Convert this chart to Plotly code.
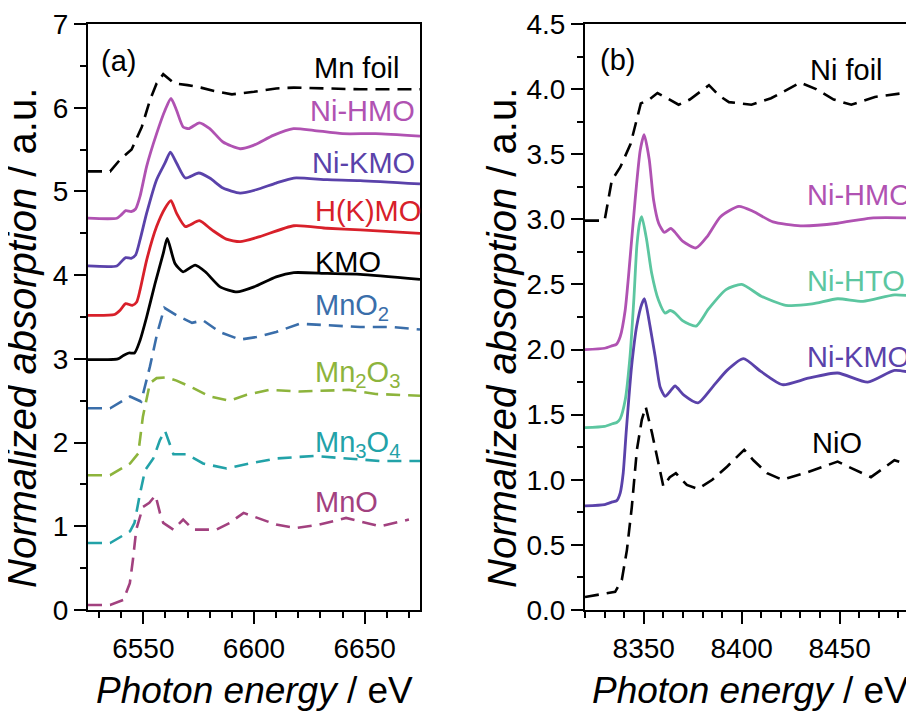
import plotly.graph_objects as go

# ---------------- Panel (a): Mn K-edge ----------------
mnfoil_e = [6525, 6535, 6539.5, 6544.7, 6549.3, 6553, 6556, 6559, 6564, 6570, 6576, 6582, 6590, 6600, 6610, 6618, 6633, 6648, 6675]
mnfoil_y = [5.24, 5.24, 5.38, 5.50, 5.77, 6.09, 6.29, 6.40, 6.29, 6.27, 6.24, 6.20, 6.16, 6.19, 6.23, 6.24, 6.23, 6.22, 6.22]

nihmo_a_e = [6525, 6538, 6540, 6542, 6544.5, 6546.5, 6548.5, 6551.5, 6556, 6559.8, 6562.5, 6565, 6568, 6570.5, 6575.3, 6580, 6586, 6593.7, 6599.7, 6608.7, 6617.8, 6626.8, 6640, 6655, 6675]
nihmo_a_y = [4.68, 4.68, 4.72, 4.77, 4.76, 4.79, 4.94, 5.30, 5.69, 5.97, 6.11, 5.97, 5.77, 5.75, 5.82, 5.75, 5.59, 5.51, 5.55, 5.67, 5.75, 5.73, 5.69, 5.69, 5.66]

nikmo_a_e = [6525, 6538, 6540, 6542, 6544.5, 6546.5, 6548.5, 6551.5, 6556, 6559.8, 6562.2, 6565, 6569, 6575, 6580, 6586, 6593.7, 6601, 6610, 6618, 6633, 6648, 6675]
nikmo_a_y = [4.11, 4.11, 4.16, 4.21, 4.20, 4.24, 4.42, 4.74, 5.14, 5.34, 5.47, 5.34, 5.16, 5.22, 5.16, 5.04, 4.98, 5.02, 5.10, 5.16, 5.14, 5.13, 5.09]

hkmo_e = [6525, 6537, 6539.5, 6542, 6545, 6547, 6548.5, 6551.5, 6556, 6559.8, 6562.5, 6565, 6569, 6575.3, 6581, 6587.5, 6593.7, 6602.6, 6618, 6633, 6648, 6675]
hkmo_y = [3.52, 3.53, 3.58, 3.66, 3.64, 3.68, 3.82, 4.18, 4.58, 4.80, 4.89, 4.74, 4.58, 4.65, 4.54, 4.43, 4.40, 4.46, 4.59, 4.56, 4.54, 4.50]

kmo_e = [6525, 6538.5, 6541, 6543.5, 6546, 6548.5, 6551.5, 6555.3, 6559, 6560.8, 6564.3, 6568, 6573.4, 6578, 6584.7, 6592.3, 6600, 6610, 6618, 6633, 6648, 6675]
kmo_y = [2.99, 3.00, 3.04, 3.07, 3.07, 3.22, 3.50, 3.90, 4.26, 4.44, 4.14, 4.04, 4.12, 4.04, 3.86, 3.80, 3.86, 3.98, 4.03, 4.02, 4.01, 3.95]

mno2_e = [6525, 6535, 6544, 6549, 6553, 6556.3, 6559.5, 6565, 6572, 6577, 6584.6, 6593.7, 6601, 6610, 6620.6, 6632.7, 6648, 6663, 6675]
mno2_y = [2.41, 2.41, 2.55, 2.49, 2.91, 3.31, 3.61, 3.52, 3.43, 3.46, 3.32, 3.23, 3.26, 3.32, 3.42, 3.40, 3.38, 3.38, 3.35]

mn2o3_e = [6525, 6535, 6544, 6547.7, 6549.8, 6553, 6556, 6560.5, 6565, 6572.6, 6580, 6589, 6596.7, 6607, 6620.6, 6632, 6643, 6655, 6675]
mn2o3_y = [1.61, 1.61, 1.75, 1.87, 2.31, 2.71, 2.77, 2.78, 2.74, 2.65, 2.55, 2.50, 2.57, 2.63, 2.61, 2.62, 2.63, 2.58, 2.56]

mn3o4_e = [6525, 6535, 6544, 6546, 6548.5, 6550.8, 6554.5, 6557.5, 6559.8, 6563.6, 6569.6, 6577, 6587.6, 6598, 6610, 6627, 6642, 6657, 6675]
mn3o4_y = [0.80, 0.80, 0.94, 1.04, 1.39, 1.67, 1.81, 2.03, 2.14, 1.86, 1.86, 1.75, 1.69, 1.75, 1.81, 1.84, 1.81, 1.78, 1.78]

mno_e = [6525, 6535, 6541, 6543.9, 6545.3, 6546.8, 6549.8, 6552.7, 6555.5, 6557.5, 6559, 6563.6, 6568, 6572.6, 6583, 6589, 6595.3, 6602, 6610, 6619, 6629.5, 6641.6, 6648, 6657, 6670]
mno_y = [0.06, 0.06, 0.12, 0.32, 0.60, 0.96, 1.23, 1.28, 1.37, 1.16, 1.04, 0.96, 1.08, 0.96, 0.96, 1.04, 1.16, 1.10, 1.02, 0.98, 1.02, 1.10, 1.06, 1.00, 1.08]

# ---------------- Panel (b): Ni K-edge ----------------
nifoil_e = [8320, 8330, 8333.7, 8338, 8343.3, 8345.9, 8348.5, 8352.8, 8357, 8362, 8367.8, 8373.5, 8383.3, 8388.5, 8393.5, 8405, 8415, 8430, 8438, 8447, 8456, 8468, 8488]
nifoil_y = [2.99, 2.99, 3.30, 3.40, 3.58, 3.74, 3.89, 3.92, 3.97, 3.93, 3.88, 3.92, 4.03, 3.95, 3.90, 3.88, 3.93, 4.05, 4.00, 3.92, 3.88, 3.94, 3.98]

nihmo_b_e = [8320, 8330, 8334, 8336, 8338, 8340.5, 8342.2, 8345.6, 8348.2, 8350.2, 8352.8, 8355, 8357.6, 8360.5, 8363.8, 8366, 8370, 8376.7, 8382.5, 8389.2, 8398.6, 8406, 8416, 8430, 8449, 8466, 8488]
nihmo_b_y = [2.00, 2.01, 2.03, 2.04, 2.10, 2.30, 2.56, 3.15, 3.53, 3.65, 3.46, 3.15, 2.97, 2.90, 2.93, 2.90, 2.83, 2.78, 2.87, 3.02, 3.10, 3.06, 2.98, 2.95, 2.97, 3.01, 3.01]

nihto_e = [8320, 8330, 8334, 8336.2, 8338, 8340.5, 8343, 8345, 8346.5, 8348, 8349, 8351.5, 8354, 8357.5, 8360.9, 8363.5, 8366, 8370, 8376.7, 8383, 8392, 8400, 8410, 8422.5, 8436, 8449, 8462, 8478, 8488]
nihto_y = [1.40, 1.41, 1.43, 1.44, 1.47, 1.61, 1.95, 2.40, 2.80, 2.98, 3.02, 2.84, 2.59, 2.38, 2.28, 2.30, 2.28, 2.22, 2.18, 2.31, 2.46, 2.50, 2.41, 2.34, 2.35, 2.39, 2.37, 2.42, 2.41]

nikmo_b_e = [8320, 8330, 8334, 8336.2, 8338, 8339.5, 8341, 8343.8, 8346.4, 8349, 8350.4, 8353.2, 8355.8, 8358.4, 8360.9, 8363.5, 8366, 8370.5, 8377.7, 8385, 8392.5, 8400.9, 8410, 8420.8, 8434, 8449, 8464.4, 8478, 8488]
nikmo_b_y = [0.80, 0.81, 0.83, 0.84, 0.90, 1.05, 1.36, 1.87, 2.18, 2.35, 2.39, 2.18, 1.95, 1.71, 1.64, 1.68, 1.72, 1.65, 1.59, 1.71, 1.84, 1.93, 1.83, 1.73, 1.78, 1.82, 1.75, 1.84, 1.82]

nio_e = [8320, 8335.4, 8338.8, 8341.4, 8343.9, 8346.5, 8349, 8351, 8354.2, 8357.5, 8360, 8363.3, 8366.4, 8372, 8377.7, 8385, 8392.5, 8401.3, 8406, 8413, 8420.8, 8434, 8449, 8456, 8466, 8478, 8488]
nio_y = [0.10, 0.14, 0.23, 0.46, 0.79, 1.23, 1.46, 1.56, 1.36, 1.13, 0.95, 1.02, 1.05, 0.96, 0.93, 1.00, 1.10, 1.23, 1.15, 1.05, 1.00, 1.06, 1.14, 1.09, 1.02, 1.15, 1.10]

C_BLACK = "#000000"
C_NIHMO = "#B052B2"
C_NIKMO = "#5A42AA"
C_HKMO = "#D8202A"
C_MNO2 = "#3A6EAA"
C_MN2O3 = "#8DB43C"
C_MN3O4 = "#22A2A8"
C_MNO = "#A2417F"
C_NIHTO = "#5CC6A0"

DASH = "14px,8px"

fig = go.Figure()

def add(x, y, color, dashed, xa, ya):
    fig.add_trace(go.Scatter(
        x=x, y=y, mode="lines", xaxis=xa, yaxis=ya, showlegend=False,
        line=dict(color=color, width=2.6 if dashed else 2.8,
                  dash=DASH if dashed else "solid",
                  shape="linear" if dashed else "spline",
                  smoothing=0.6 if not dashed else None),
        hoverinfo="skip"))

# panel (a)
add(mnfoil_e, mnfoil_y, C_BLACK, True, "x", "y")
add(nihmo_a_e, nihmo_a_y, C_NIHMO, False, "x", "y")
add(nikmo_a_e, nikmo_a_y, C_NIKMO, False, "x", "y")
add(hkmo_e, hkmo_y, C_HKMO, False, "x", "y")
add(kmo_e, kmo_y, C_BLACK, False, "x", "y")
add(mno2_e, mno2_y, C_MNO2, True, "x", "y")
add(mn2o3_e, mn2o3_y, C_MN2O3, True, "x", "y")
add(mn3o4_e, mn3o4_y, C_MN3O4, True, "x", "y")
add(mno_e, mno_y, C_MNO, True, "x", "y")

# panel (b)
add(nifoil_e, nifoil_y, C_BLACK, True, "x2", "y2")
add(nihmo_b_e, nihmo_b_y, C_NIHMO, False, "x2", "y2")
add(nihto_e, nihto_y, C_NIHTO, False, "x2", "y2")
add(nikmo_b_e, nikmo_b_y, C_NIKMO, False, "x2", "y2")
add(nio_e, nio_y, C_BLACK, True, "x2", "y2")

W, H = 914, 716
OFF = 8  # page offset of the figure inside the browser window

def px_x(sx):
    return (sx - OFF) / W

def px_y(sy):
    return (H - (sy - OFF)) / H

ya_dom = [px_y(610), px_y(24)]
xa_dom = [px_x(88), px_x(420)]
xb_dom = [px_x(585), px_x(914)]

FONT = "Liberation Sans, Arial, sans-serif"
tickfont = dict(family=FONT, size=28, color="black")

def xaxis(dom, rng, anchor, mirror):
    return dict(domain=dom, range=rng, anchor=anchor, showgrid=False, zeroline=False, automargin=False,
                showline=True, linecolor="black", linewidth=2, mirror=mirror,
                ticks="outside", ticklen=12, tickwidth=2, tickcolor="black",
                dtick=50, tick0=6500, tickfont=tickfont,
                minor=dict(ticks="outside", ticklen=6, tickwidth=2, tickcolor="black", dtick=10, showgrid=False))

def topaxis(rng, over, anchor):
    return dict(overlaying=over, anchor=anchor, side="top", range=rng, showgrid=False, zeroline=False,
                showline=False, showticklabels=False, automargin=False,
                ticks="inside", ticklen=12, tickwidth=2, tickcolor="black", dtick=50, tick0=6500,
                minor=dict(ticks="inside", ticklen=6, tickwidth=2, tickcolor="black", dtick=10, showgrid=False))

def yaxis(rng, anchor, dtick, minor, fmt, mirror):
    return dict(domain=ya_dom, range=rng, anchor=anchor, showgrid=False, zeroline=False, automargin=False,
                showline=True, linecolor="black", linewidth=2, mirror=mirror,
                ticks="outside", ticklen=12, tickwidth=2, tickcolor="black",
                dtick=dtick, tick0=0, tickformat=fmt, tickfont=tickfont,
                minor=dict(ticks="outside", ticklen=6, tickwidth=2, tickcolor="black", dtick=minor, showgrid=False))

fig.update_layout(
    width=W, height=H, margin=dict(l=0, r=0, t=0, b=0, pad=0, autoexpand=False),
    paper_bgcolor="white", plot_bgcolor="white",
    xaxis=xaxis(xa_dom, [6525, 6675], "y", True),
    yaxis=yaxis([0, 7], "x", 1, 0.5, "d", True),
    xaxis2=xaxis(xb_dom, [8320, 8488], "y2", True),
    yaxis2=yaxis([0, 4.5], "x2", 0.5, 0.25, ".1f", False),
    xaxis3=topaxis([6525, 6675], "x", "y"),
    xaxis4=topaxis([8320, 8488], "x2", "y2"),
)

lab = dict(family=FONT, size=29)
def ann(text, x, y, color, xref, yref, xanchor="left"):
    fig.add_annotation(text=text, x=x, y=y, xref=xref, yref=yref, showarrow=False,
                       xanchor=xanchor, yanchor="middle", font=dict(lab, color=color))

# panel (a) labels
ann("(a)", 6539, 6.56, C_BLACK, "x", "y", "center")
ann("Mn foil", 6626.0, 6.47, C_BLACK, "x", "y")
ann("Ni-HMO", 6624.5, 5.96, C_NIHMO, "x", "y")
ann("Ni-KMO", 6625.5, 5.34, C_NIKMO, "x", "y")
ann("H(K)MO", 6626.5, 4.77, C_HKMO, "x", "y")
ann("KMO", 6626.5, 4.16, C_BLACK, "x", "y")
ann("MnO<sub>2</sub>", 6626.5, 3.62, C_MNO2, "x", "y")
ann("Mn<sub>2</sub>O<sub>3</sub>", 6626.5, 2.82, C_MN2O3, "x", "y")
ann("Mn<sub>3</sub>O<sub>4</sub>", 6626.5, 1.98, C_MN3O4, "x", "y")
ann("MnO", 6626.5, 1.29, C_MNO, "x", "y")

# panel (b) labels
ann("(b)", 8336.4, 4.22, C_BLACK, "x2", "y2", "center")
ann("Ni foil", 8434.0, 4.15, C_BLACK, "x2", "y2")
ann("Ni-HMO", 8432.5, 3.19, C_NIHMO, "x2", "y2")
ann("Ni-HTO", 8432.5, 2.53, C_NIHTO, "x2", "y2")
ann("Ni-KMO", 8432.5, 1.94, C_NIKMO, "x2", "y2")
ann("NiO", 8435.0, 1.28, C_BLACK, "x2", "y2")

# axis titles
ttl = dict(family=FONT, size=37, color="black")
for xc in (22, 502):
    fig.add_annotation(text="<i>Normalized absorption</i> / a.u.", x=px_x(xc), y=px_y(338),
                       xref="paper", yref="paper", showarrow=False, textangle=-90,
                       xanchor="center", yanchor="middle", font=dict(ttl, size=40))
for xc in (254, 750):
    fig.add_annotation(text="<i>Photon energy</i> / eV", x=px_x(xc), y=px_y(690),
                       xref="paper", yref="paper", showarrow=False,
                       xanchor="center", yanchor="middle", font=ttl)

fig.write_html("out.html")
